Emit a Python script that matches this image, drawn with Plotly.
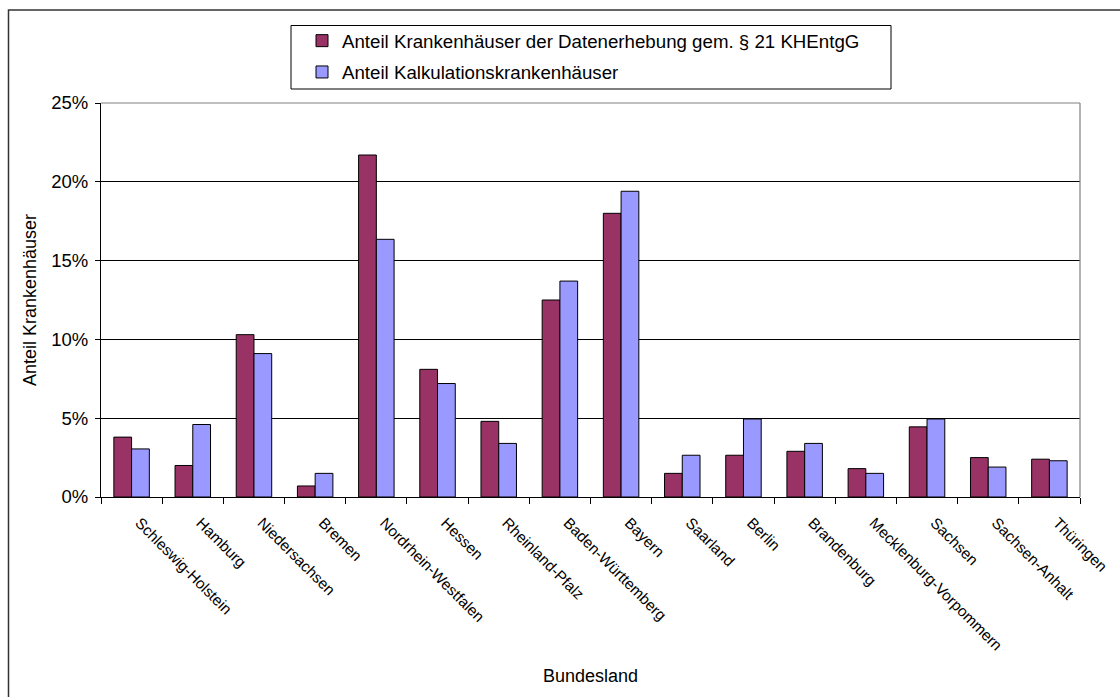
import plotly.graph_objects as go

laender = ["Schleswig-Holstein", "Hamburg", "Niedersachsen", "Bremen",
           "Nordrhein-Westfalen", "Hessen", "Rheinland-Pfalz", "Baden-Württemberg",
           "Bayern", "Saarland", "Berlin", "Brandenburg",
           "Mecklenburg-Vorpommern", "Sachsen", "Sachsen-Anhalt", "Thüringen"]
anteil_datenerhebung = [3.8, 2.0, 10.3, 0.7, 21.7, 8.1, 4.8, 12.5,
                        18.0, 1.5, 2.65, 2.9, 1.8, 4.45, 2.5, 2.4]
anteil_kalkulation = [3.05, 4.6, 9.1, 1.5, 16.35, 7.2, 3.4, 13.7,
                      19.4, 2.65, 4.95, 3.4, 1.5, 4.95, 1.9, 2.3]
name_datenerhebung = "Anteil Krankenhäuser der Datenerhebung gem. § 21 KHEntgG"
name_kalkulation = "Anteil Kalkulationskrankenhäuser"
y_ticks = [0, 5, 10, 15, 20, 25]
y_ticktext = [f"{v}%" for v in y_ticks]

W, H = 1120, 697
L, R, T, B = 101, 40, 103, 200
pw, ph = W - L - R, H - T - B

def px(x):
    return (x - L) / pw

def py(y):
    return (H - B - y) / ph

FONT = "Liberation Sans, Arial, sans-serif"

fig = go.Figure()
fig.add_trace(go.Bar(x=laender, y=anteil_datenerhebung, name=name_datenerhebung,
                     legendgroup="a",
                     marker=dict(color="#993366", line=dict(color="black", width=1))))
fig.add_trace(go.Bar(x=laender, y=anteil_kalkulation, name=name_kalkulation,
                     legendgroup="b",
                     marker=dict(color="#9999FF", line=dict(color="black", width=1))))

shapes = [
    # outer chart frame
    dict(type="rect", xref="paper", yref="paper", x0=px(8.5), x1=px(1130),
         y0=py(710), y1=py(10), line=dict(color="#333333", width=1.5)),
    # legend box
    dict(type="rect", xref="paper", yref="paper", x0=px(291), x1=px(891),
         y0=py(89), y1=py(25.5), line=dict(color="black", width=1)),
    # plot area border top / right
    dict(type="line", xref="paper", yref="paper", x0=0, x1=1, y0=1, y1=1,
         line=dict(color="#808080", width=1.2)),
    dict(type="line", xref="paper", yref="paper", x0=1, x1=1, y0=0, y1=1,
         line=dict(color="#808080", width=1.2)),
]

fig.update_layout(
    width=W, height=H,
    margin=dict(l=L, r=R, t=T, b=B, autoexpand=False),
    paper_bgcolor="white", plot_bgcolor="white",
    font=dict(family=FONT, size=18, color="black"),
    barmode="group", bargap=0.42, bargroupgap=0,
    showlegend=True,
    legend=dict(x=px(302), y=py(22), xanchor="left", yanchor="top",
                bgcolor="rgba(0,0,0,0)", borderwidth=0,
                font=dict(family=FONT, size=18.7, color="black"),
                traceorder="grouped", tracegroupgap=4),
    shapes=shapes,
    xaxis=dict(
        type="category", tickangle=45, tickson="boundaries",
        ticks="outside", ticklen=6, tickcolor="black", tickwidth=1,
        showline=True, linecolor="black", linewidth=1,
        showgrid=False, tickfont=dict(size=15.3), ticklabelstandoff=10,
        ticklabelshift=8,
        title=dict(text="Bundesland", font=dict(size=18), standoff=16),
        automargin=False,
    ),
    yaxis=dict(
        range=[0, 25], tickvals=y_ticks, ticktext=y_ticktext,
        ticks="outside", ticklen=5, tickcolor="black", tickwidth=1,
        showline=True, linecolor="black", linewidth=1,
        showgrid=True, gridcolor="black", gridwidth=1,
        zeroline=False, tickfont=dict(size=18.5), ticklabelstandoff=3,
        title=dict(text="Anteil Krankenhäuser", font=dict(size=18), standoff=9),
        automargin=False,
    ),
)

fig.write_html("out.html", post_script="document.body.style.margin='0';",
               config={"displayModeBar": False})
